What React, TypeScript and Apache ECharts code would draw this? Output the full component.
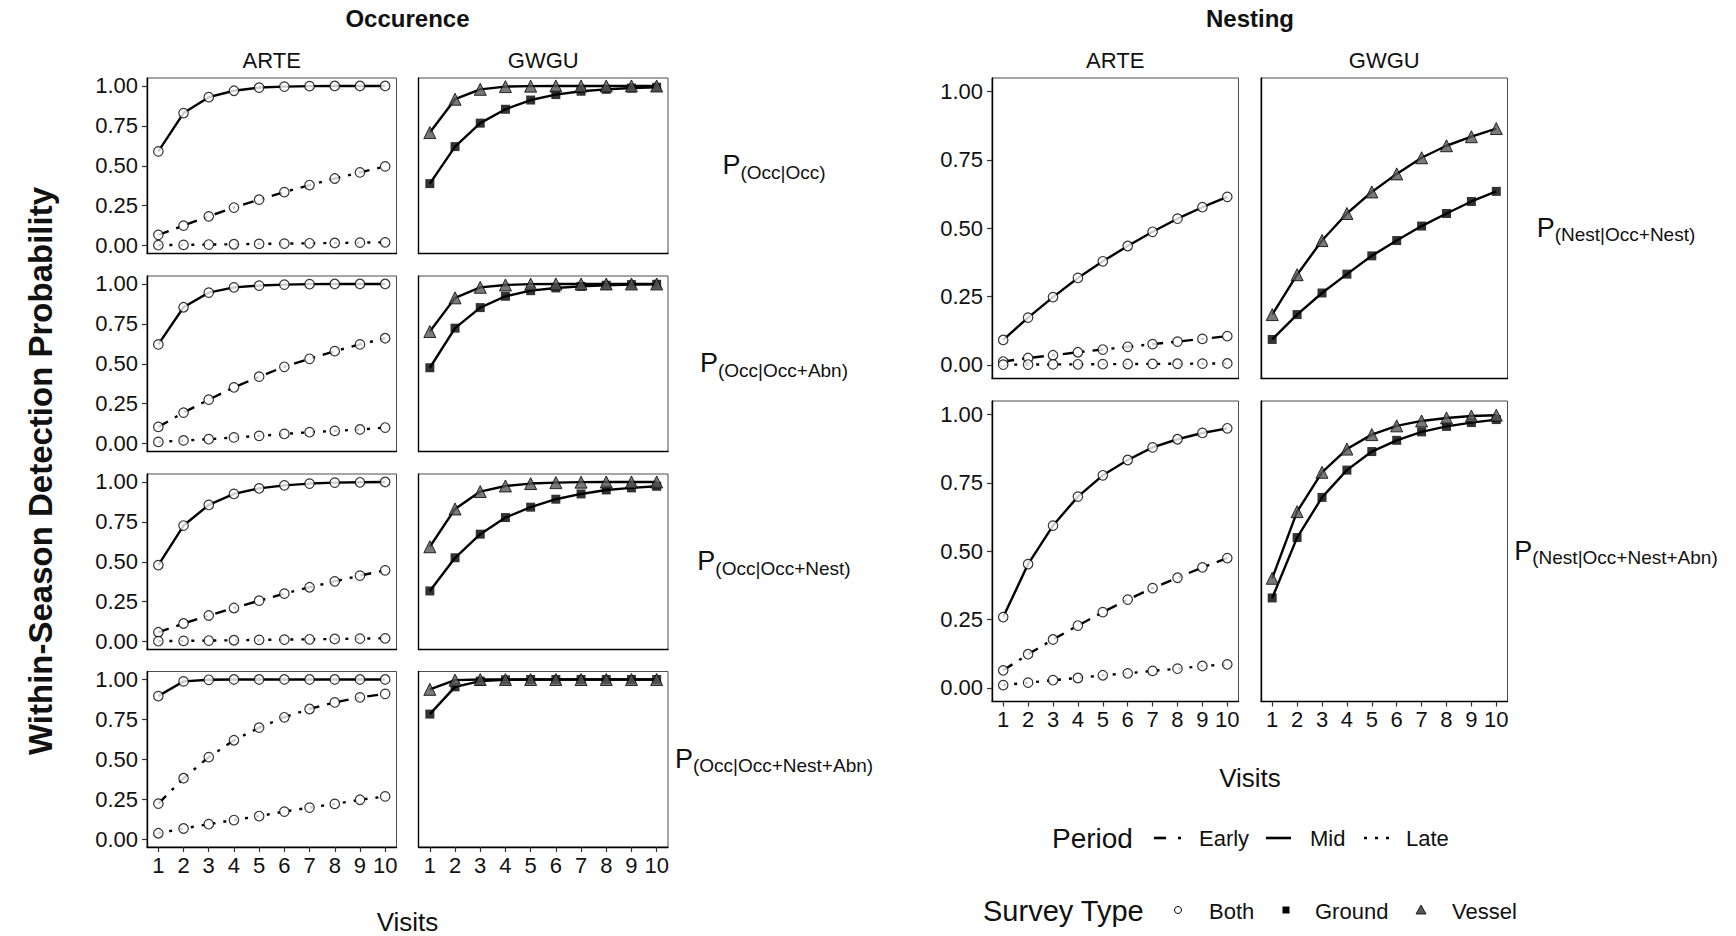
import { useEffect, useRef } from 'react';
import * as echarts from 'echarts';

const FONT = "'Liberation Sans', Arial, Helvetica, sans-serif";

const visits = [1, 2, 3, 4, 5, 6, 7, 8, 9, 10];
const yTicks = [0, 0.25, 0.5, 0.75, 1];

const occRowLabels = ['(Occ|Occ)', '(Occ|Occ+Abn)', '(Occ|Occ+Nest)', '(Occ|Occ+Nest+Abn)'];
const nestRowLabels = ['(Nest|Occ+Nest)', '(Nest|Occ+Nest+Abn)'];
const species = ['ARTE', 'GWGU'];

// Occurrence, row 1: P(Occ|Occ)
const occ1ArteEarly = [0.067, 0.125, 0.183, 0.238, 0.288, 0.335, 0.379, 0.42, 0.458, 0.496];
const occ1ArteMid = [0.59, 0.83, 0.93, 0.97, 0.99, 0.996, 0.999, 1.0, 1.0, 1.0];
const occ1ArteLate = [0.002, 0.004, 0.006, 0.008, 0.01, 0.012, 0.014, 0.016, 0.018, 0.02];
const occ1GwguGround = [0.388, 0.62, 0.767, 0.854, 0.912, 0.946, 0.967, 0.979, 0.987, 0.992];
const occ1GwguVessel = [0.708, 0.917, 0.979, 0.996, 0.999, 1.0, 1.0, 1.0, 1.0, 1.0];

// Occurrence, row 2: P(Occ|Occ+Abn)
const occ2ArteEarly = [0.104, 0.194, 0.275, 0.352, 0.419, 0.481, 0.531, 0.579, 0.621, 0.66];
const occ2ArteMid = [0.621, 0.854, 0.946, 0.979, 0.99, 0.996, 0.999, 1.0, 1.0, 1.0];
const occ2ArteLate = [0.01, 0.019, 0.027, 0.038, 0.048, 0.06, 0.071, 0.079, 0.088, 0.1];
const occ2GwguGround = [0.475, 0.723, 0.852, 0.923, 0.958, 0.975, 0.985, 0.992, 0.996, 0.998];
const occ2GwguVessel = [0.702, 0.913, 0.979, 0.994, 0.999, 1.0, 1.0, 1.0, 1.0, 1.0];

// Occurrence, row 3: P(Occ|Occ+Nest)
const occ3ArteEarly = [0.058, 0.113, 0.163, 0.21, 0.256, 0.3, 0.34, 0.377, 0.413, 0.446];
const occ3ArteMid = [0.479, 0.727, 0.856, 0.925, 0.96, 0.979, 0.99, 0.996, 0.998, 1.0];
const occ3ArteLate = [0.002, 0.004, 0.006, 0.008, 0.01, 0.012, 0.014, 0.016, 0.018, 0.02];
const occ3GwguGround = [0.317, 0.525, 0.673, 0.777, 0.842, 0.892, 0.925, 0.95, 0.963, 0.973];
const occ3GwguVessel = [0.594, 0.831, 0.94, 0.975, 0.99, 0.996, 0.999, 1.0, 1.0, 1.0];

// Occurrence, row 4: P(Occ|Occ+Nest+Abn)
const occ4ArteEarly = [0.222, 0.381, 0.513, 0.619, 0.698, 0.763, 0.815, 0.856, 0.888, 0.91];
const occ4ArteMid = [0.896, 0.988, 0.998, 1.0, 1.0, 1.0, 1.0, 1.0, 1.0, 1.0];
const occ4ArteLate = [0.036, 0.066, 0.093, 0.119, 0.144, 0.172, 0.197, 0.22, 0.246, 0.267];
const occ4GwguGround = [0.783, 0.954, 0.99, 0.998, 1.0, 1.0, 1.0, 1.0, 1.0, 1.0];
const occ4GwguVessel = [0.938, 0.996, 1.0, 1.0, 1.0, 1.0, 1.0, 1.0, 1.0, 1.0];

// Nesting, row 1: P(Nest|Occ+Nest)
const nest1ArteEarly = [0.012, 0.025, 0.035, 0.046, 0.056, 0.066, 0.076, 0.085, 0.095, 0.105];
const nest1ArteMid = [0.091, 0.173, 0.248, 0.318, 0.379, 0.435, 0.487, 0.535, 0.577, 0.615];
const nest1ArteLate = [0.0005, 0.001, 0.0015, 0.002, 0.0025, 0.003, 0.0035, 0.004, 0.0045, 0.005];
const nest1GwguGround = [0.093, 0.184, 0.263, 0.332, 0.399, 0.455, 0.508, 0.554, 0.598, 0.635];
const nest1GwguVessel = [0.184, 0.33, 0.455, 0.554, 0.633, 0.699, 0.758, 0.802, 0.835, 0.865];

// Nesting, row 2: P(Nest|Occ+Nest+Abn)
const nest2ArteEarly = [0.064, 0.123, 0.177, 0.228, 0.277, 0.323, 0.365, 0.403, 0.441, 0.475];
const nest2ArteMid = [0.259, 0.453, 0.594, 0.7, 0.778, 0.834, 0.88, 0.91, 0.933, 0.95];
const nest2ArteLate = [0.01, 0.019, 0.028, 0.036, 0.046, 0.053, 0.062, 0.07, 0.08, 0.086];
const nest2GwguGround = [0.329, 0.55, 0.697, 0.797, 0.865, 0.906, 0.937, 0.957, 0.971, 0.982];
const nest2GwguVessel = [0.401, 0.645, 0.789, 0.874, 0.927, 0.959, 0.977, 0.988, 0.995, 0.998];

type Line = { data: number[]; period: 'Early' | 'Mid' | 'Late'; survey: 'Both' | 'Ground' | 'Vessel' };

const occRows: Line[][][] = [
  [
    [{ data: occ1ArteEarly, period: 'Early', survey: 'Both' }, { data: occ1ArteMid, period: 'Mid', survey: 'Both' }, { data: occ1ArteLate, period: 'Late', survey: 'Both' }],
    [{ data: occ1GwguGround, period: 'Mid', survey: 'Ground' }, { data: occ1GwguVessel, period: 'Mid', survey: 'Vessel' }],
  ],
  [
    [{ data: occ2ArteEarly, period: 'Early', survey: 'Both' }, { data: occ2ArteMid, period: 'Mid', survey: 'Both' }, { data: occ2ArteLate, period: 'Late', survey: 'Both' }],
    [{ data: occ2GwguGround, period: 'Mid', survey: 'Ground' }, { data: occ2GwguVessel, period: 'Mid', survey: 'Vessel' }],
  ],
  [
    [{ data: occ3ArteEarly, period: 'Early', survey: 'Both' }, { data: occ3ArteMid, period: 'Mid', survey: 'Both' }, { data: occ3ArteLate, period: 'Late', survey: 'Both' }],
    [{ data: occ3GwguGround, period: 'Mid', survey: 'Ground' }, { data: occ3GwguVessel, period: 'Mid', survey: 'Vessel' }],
  ],
  [
    [{ data: occ4ArteEarly, period: 'Early', survey: 'Both' }, { data: occ4ArteMid, period: 'Mid', survey: 'Both' }, { data: occ4ArteLate, period: 'Late', survey: 'Both' }],
    [{ data: occ4GwguGround, period: 'Mid', survey: 'Ground' }, { data: occ4GwguVessel, period: 'Mid', survey: 'Vessel' }],
  ],
];

const nestRows: Line[][][] = [
  [
    [{ data: nest1ArteEarly, period: 'Early', survey: 'Both' }, { data: nest1ArteMid, period: 'Mid', survey: 'Both' }, { data: nest1ArteLate, period: 'Late', survey: 'Both' }],
    [{ data: nest1GwguGround, period: 'Mid', survey: 'Ground' }, { data: nest1GwguVessel, period: 'Mid', survey: 'Vessel' }],
  ],
  [
    [{ data: nest2ArteEarly, period: 'Early', survey: 'Both' }, { data: nest2ArteMid, period: 'Mid', survey: 'Both' }, { data: nest2ArteLate, period: 'Late', survey: 'Both' }],
    [{ data: nest2GwguGround, period: 'Mid', survey: 'Ground' }, { data: nest2GwguVessel, period: 'Mid', survey: 'Vessel' }],
  ],
];

const DASH: Record<string, any> = { Early: [11, 8, 3, 8], Mid: 'solid', Late: [3, 8] };
const MARK: Record<string, any> = {
  Both: { symbol: 'circle', symbolSize: 9.5, itemStyle: { color: '#ffffff', borderColor: '#000', borderWidth: 1.2 } },
  Ground: { symbol: 'rect', symbolSize: 9, itemStyle: { color: '#000000' } },
  Vessel: { symbol: 'triangle', symbolSize: 12, itemStyle: { color: '#595959', borderColor: '#000', borderWidth: 1 } },
};

function buildOption() {
  const grids: any[] = [];
  const xAxes: any[] = [];
  const yAxes: any[] = [];
  const series: any[] = [];

  const addPanel = (left: number, top: number, width: number, height: number, showX: boolean, showY: boolean, lines: Line[]) => {
    const g = grids.length;
    grids.push({ left, top, width, height, show: true, borderColor: '#4d4d4d', borderWidth: 1, backgroundColor: 'transparent', containLabel: false });
    xAxes.push({
      gridIndex: g, type: 'value', min: 0.55, max: 10.45,
      splitLine: { show: false },
      axisLine: { show: true, onZero: false, lineStyle: { color: '#000', width: 1.4 } },
      axisTick: { show: showX, customValues: visits, length: 5, lineStyle: { color: '#333', width: 1.2 } },
      axisLabel: { show: showX, customValues: visits, margin: 7, fontSize: 22, color: '#111', fontFamily: FONT, formatter: (v: number) => String(Math.round(v)) },
    });
    yAxes.push({
      gridIndex: g, type: 'value', min: -0.05, max: 1.05,
      splitLine: { show: false },
      axisLine: { show: true, onZero: false, lineStyle: { color: '#000', width: 1.4 } },
      axisTick: { show: showY, customValues: yTicks, length: 5, lineStyle: { color: '#333', width: 1.2 } },
      axisLabel: { show: showY, customValues: yTicks, margin: 9, fontSize: 22, color: '#111', fontFamily: FONT, formatter: (v: number) => v.toFixed(2) },
    });
    lines.forEach((ln) => {
      const pts = visits.map((v, i) => [v, ln.data[i]]);
      series.push({
        type: 'line', xAxisIndex: g, yAxisIndex: g, data: pts, symbol: 'none', silent: true, z: 2,
        lineStyle: { color: '#000', width: 2.4, type: DASH[ln.period] },
      });
      series.push({ type: 'scatter', xAxisIndex: g, yAxisIndex: g, data: pts, silent: true, z: 3, ...MARK[ln.survey] });
    });
  };

  const leftX = [147, 418.5];
  const leftW = 249.5;
  const leftTops = [78, 276, 474, 671.5];
  const leftH = 175.5;
  occRows.forEach((row, r) => {
    row.forEach((lines, c) => addPanel(leftX[c], leftTops[r], leftW, leftH, r === occRows.length - 1, c === 0, lines));
  });

  const rightX = [992, 1261];
  const rightW = 246.5;
  const rightTops = [78, 401];
  const rightH = 300.5;
  nestRows.forEach((row, r) => {
    row.forEach((lines, c) => addPanel(rightX[c], rightTops[r], rightW, rightH, r === nestRows.length - 1, c === 0, lines));
  });

  const txt = (text: string, x: number, y: number, size: number, extra: any = {}) => ({
    type: 'text', silent: true,
    style: { text, x, y, fontSize: size, fontFamily: FONT, fill: '#111', align: 'center', verticalAlign: 'middle', textAlign: 'center', textVerticalAlign: 'middle', ...extra },
  });

  const rowLabel = (sub: string, x: number, y: number) => ({
    type: 'text', silent: true,
    style: {
      text: `{p|P}{s|${sub}}`, x, y, align: 'center', verticalAlign: 'middle', textAlign: 'center', textVerticalAlign: 'middle',
      fontFamily: FONT, fill: '#111',
      rich: {
        p: { fontSize: 27, fontFamily: FONT, fill: '#111', lineHeight: 30, verticalAlign: 'top' },
        s: { fontSize: 19, fontFamily: FONT, fill: '#111', lineHeight: 20, verticalAlign: 'bottom' },
      },
    },
  });

  const graphics: any[] = [
    txt('Occurence', 407.5, 18, 24, { fontWeight: 'bold' }),
    txt('Nesting', 1250, 18, 24, { fontWeight: 'bold' }),
    txt(species[0], leftX[0] + leftW / 2, 60, 22),
    txt(species[1], leftX[1] + leftW / 2, 60, 22),
    txt(species[0], rightX[0] + rightW / 2, 60, 22),
    txt(species[1], rightX[1] + rightW / 2, 60, 22),
    { ...txt('Within-Season Detection Probability', 0, 0, 33, { fontWeight: 'bold' }), x: 40, y: 471, rotation: Math.PI / 2 },
    txt('Visits', 407.5, 922, 26),
    txt('Visits', 1250, 778, 26),
    ...occRowLabels.map((s, i) => rowLabel(s, 774, leftTops[i] + leftH / 2 + 1)),
    ...nestRowLabels.map((s, i) => rowLabel(s, 1616, rightTops[i] + rightH / 2 + 1)),
    // Period legend
    txt('Period', 1052, 838, 28, { align: 'left', textAlign: 'left' }),
    { type: 'line', silent: true, shape: { x1: 1154, y1: 838, x2: 1166, y2: 838 }, style: { stroke: '#000', lineWidth: 2.6 } },
    { type: 'line', silent: true, shape: { x1: 1178, y1: 838, x2: 1181, y2: 838 }, style: { stroke: '#000', lineWidth: 2.6 } },
    txt('Early', 1199, 838, 22, { align: 'left', textAlign: 'left' }),
    { type: 'line', silent: true, shape: { x1: 1266, y1: 838, x2: 1291, y2: 838 }, style: { stroke: '#000', lineWidth: 2.6 } },
    txt('Mid', 1310, 838, 22, { align: 'left', textAlign: 'left' }),
    { type: 'line', silent: true, shape: { x1: 1364, y1: 838, x2: 1392, y2: 838 }, style: { stroke: '#000', lineWidth: 2.6, lineDash: [3, 8] } },
    txt('Late', 1406, 838, 22, { align: 'left', textAlign: 'left' }),
    // Survey type legend
    txt('Survey Type', 983, 911, 29, { align: 'left', textAlign: 'left' }),
    { type: 'circle', silent: true, shape: { cx: 1178, cy: 910, r: 3.5 }, style: { fill: '#fff', stroke: '#000', lineWidth: 1 } },
    txt('Both', 1209, 911, 22, { align: 'left', textAlign: 'left' }),
    { type: 'rect', silent: true, shape: { x: 1282.5, y: 906.5, width: 7, height: 7 }, style: { fill: '#000' } },
    txt('Ground', 1315, 911, 22, { align: 'left', textAlign: 'left' }),
    { type: 'polygon', silent: true, shape: { points: [[1416, 914], [1426, 914], [1421, 905]] }, style: { fill: '#595959', stroke: '#000', lineWidth: 0.8 } },
    txt('Vessel', 1452, 911, 22, { align: 'left', textAlign: 'left' }),
  ];

  return {
    animation: false,
    backgroundColor: '#ffffff',
    grid: grids,
    xAxis: xAxes,
    yAxis: yAxes,
    series,
    graphic: graphics,
  };
}

export default function App() {
  const ref = useRef<HTMLDivElement>(null);
  useEffect(() => {
    if (!ref.current) return;
    const chart = echarts.init(ref.current, null, { renderer: 'svg' });
    chart.setOption(buildOption() as any);
    return () => chart.dispose();
  }, []);
  return <div ref={ref} style={{ position: 'fixed', left: 0, top: 0, width: 1736, height: 936, background: '#fff' }} />;
}
